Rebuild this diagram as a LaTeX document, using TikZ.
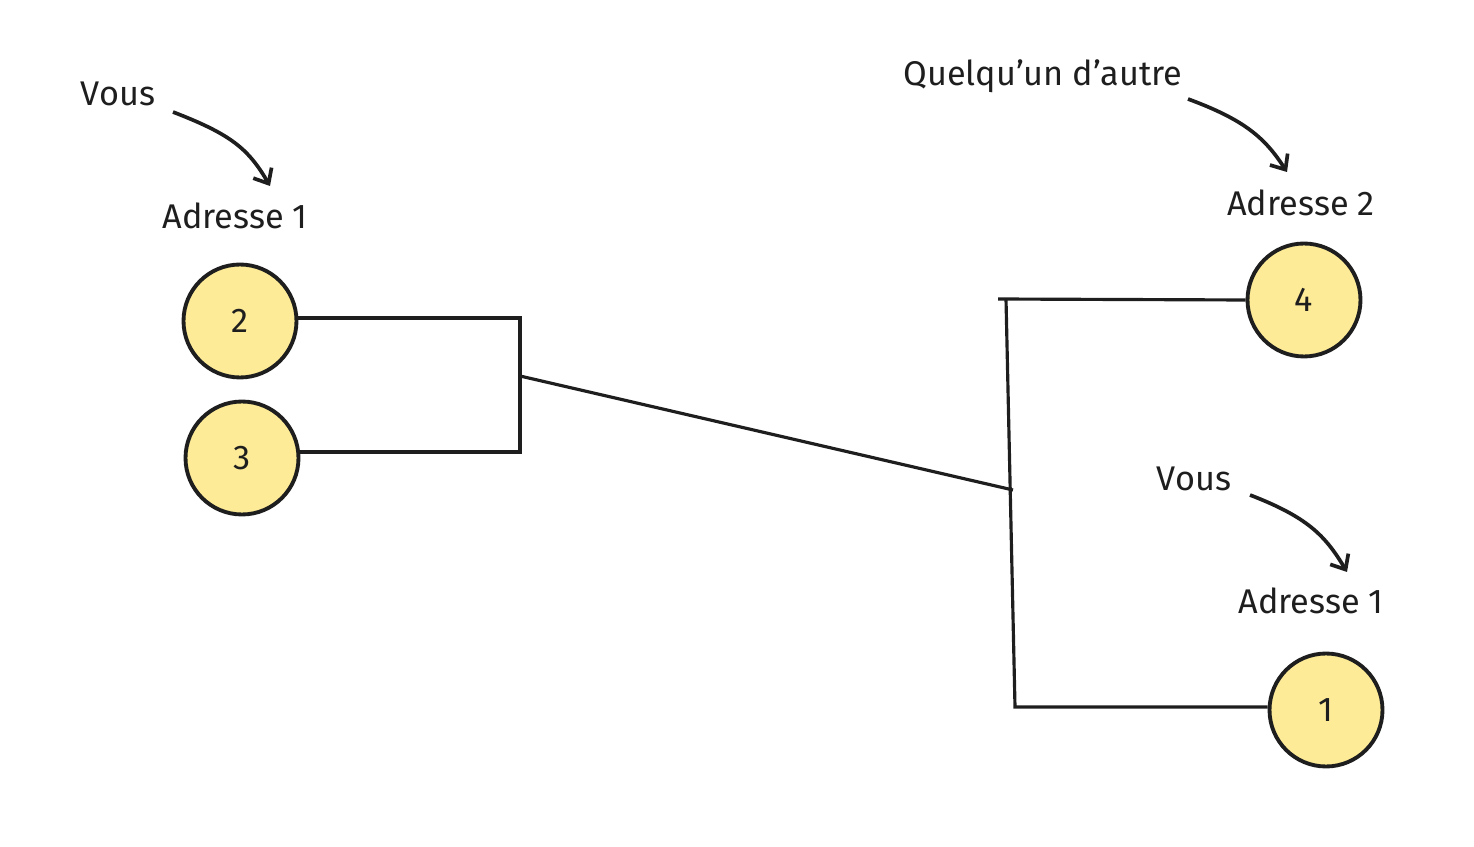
\documentclass[tikz,border=0pt]{standalone}
\usepackage{fontspec}
\setmainfont{Fira Sans}
\usepackage{xcolor}
\usetikzlibrary{arrows.meta,positioning}
\definecolor{pale}{HTML}{FDEB98}
\definecolor{ink}{HTML}{1E1E1E}

\begin{document}
\begin{tikzpicture}[x=0.02cm,y=-0.02cm,line width=1.8pt,draw=ink,
  >={Straight Barb[length=7pt,width=12pt]}]
  \tikzstyle{every node}=[font=\fontsize{19.5}{23}\selectfont,text=ink]
  \tikzstyle{addr}=[circle,draw,line width=2.2pt,fill=pale,minimum size=2.26cm,inner sep=0pt]
  \tikzstyle{lbl}=[inner sep=1pt]
  \tikzstyle{pointer}=[->,line width=2.1pt]

  \useasboundingbox (0,0) rectangle (1474,847);

  % the four addresses
  \node[addr] (C2) at (240,321) {2};
  \node[addr] (C3) at (242,458) {3};
  \node[addr] (C4) at (1304,300) {4};
  \node[addr] (C1) at (1326,710) {1};

  % labels
  \node[lbl] (VousL)  at (118,94)  {Vous};
  \node[lbl] (AdrL)   at (235,216) {Adresse 1};
  \node[lbl] (Autre)  at (1043,76) {Quelqu'un d'autre};
  \node[lbl] (AdrR)   at (1301,203) {Adresse 2};
  \node[lbl] (VousR)  at (1194,479) {Vous};
  \node[lbl] (AdrRb)  at (1311,601) {Adresse 1};

  % junction points
  \coordinate (JLt) at (520,318);
  \coordinate (JLb) at (520,452);
  \coordinate (JLm) at (520,376);
  \coordinate (JRt) at (1006,299);
  \coordinate (JRx) at (998,299);
  \coordinate (JRm) at (1013,490);
  \coordinate (JRb) at (1015,707);

  \draw (JLt -| C2.east) -- (JLt) -- (JLb) -- (JLb -| C3.east);
  \draw (JLm) -- (JRm);
  \draw (JRx) -- (C4.west);
  \draw (JRt) -- (JRb) -- (JRb -| C1.west);

  % pointers
  \coordinate (P1s) at (173,112);
  \coordinate (P1e) at (270,186);
  \coordinate (P2s) at (1188,99);
  \coordinate (P2e) at (1287,172);
  \coordinate (P3s) at (1250,495);
  \coordinate (P3e) at (1347,572);
  \draw[pointer] (P1s) .. controls (230,134) and (248,148) .. (P1e);
  \draw[pointer] (P2s) .. controls (1245,120) and (1265,138) .. (P2e);
  \draw[pointer] (P3s) .. controls (1307,517) and (1325,535) .. (P3e);
\end{tikzpicture}
\end{document}
